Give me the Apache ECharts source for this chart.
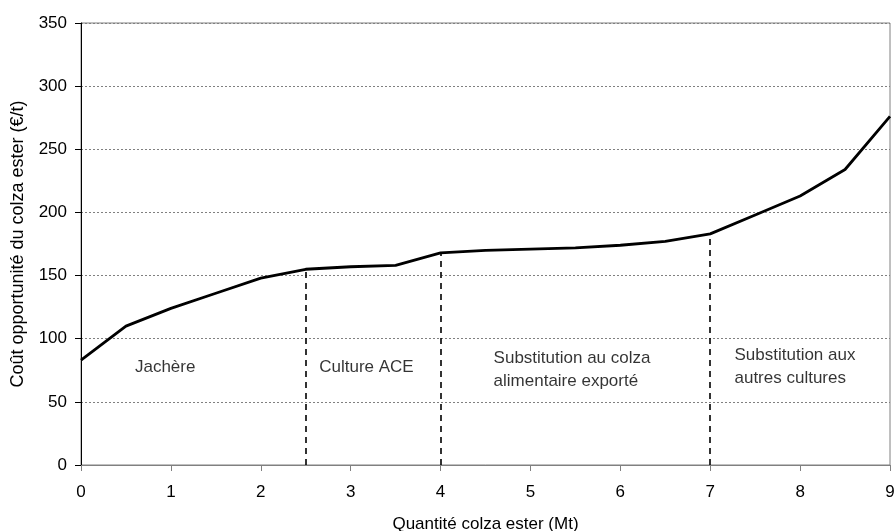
<!DOCTYPE html>
<html>
<head>
<meta charset="utf-8">
<script src="https://cdn.jsdelivr.net/npm/echarts@6/dist/echarts.min.js"></script>
<style>html,body{margin:0;padding:0;background:#fff}#c{width:895px;height:531px}</style>
</head>
<body>
<div id="c"></div>
<script>
// Data
var quantities = [0, 0.5, 1, 1.5, 2, 2.5, 3, 3.5, 4, 4.5, 5, 5.5, 6, 6.5, 7, 7.5, 8, 8.5, 9];
var costs = [83, 110, 124, 136, 148, 155, 157, 158, 168, 170, 171, 172, 174, 177, 183, 198, 213, 234, 276];
var dividerQuantities = [2.5, 4, 7];
var zoneNames = ['Jachère', 'Culture ACE', 'Substitution au colza\nalimentaire exporté', 'Substitution aux\nautres cultures'];
var zoneLabelX = [0.6, 2.65, 4.59, 7.27];
var zoneLabelY = [77, 77, 75, 78];
var yTicks = [0, 50, 100, 150, 200, 250, 300, 350];
var xTicks = [0, 1, 2, 3, 4, 5, 6, 7, 8, 9];
var xTitle = 'Quantité colza ester (Mt)';
var yTitle = 'Coût opportunité du colza ester (€/t)';

var FONT = '"Liberation Sans", Arial, sans-serif';

function costAt(q) {
  var i = quantities.indexOf(q);
  return costs[i];
}

var lineData = quantities.map(function (q, i) { return [q, costs[i]]; });
var markLines = dividerQuantities.map(function (q) {
  return [{ coord: [q, 0] }, { coord: [q, costAt(q)] }];
});
var labelData = zoneNames.map(function (n, i) {
  return { name: n, value: [zoneLabelX[i], zoneLabelY[i]] };
});

var chart = echarts.init(document.getElementById('c'), null, { renderer: 'canvas' });
chart.setOption({
  animation: false,
  backgroundColor: '#ffffff',
  grid: {
    left: 81, right: 5, top: 23, bottom: 66,
    containLabel: false, outerBoundsMode: 'none',
    show: true, borderColor: '#808080', borderWidth: 1, backgroundColor: 'transparent'
  },
  xAxis: {
    type: 'value', min: xTicks[0], max: xTicks[xTicks.length - 1], interval: 1,
    name: xTitle, nameLocation: 'middle', nameGap: 51,
    nameTextStyle: { fontFamily: FONT, fontSize: 17, color: '#000' },
    axisLine: { show: true, onZero: false, lineStyle: { color: '#808080', width: 1 } },
    axisTick: { show: true, inside: false, length: 6, lineStyle: { color: '#808080' } },
    axisLabel: { fontFamily: FONT, fontSize: 17, color: '#000', margin: 19 },
    splitLine: { show: false }
  },
  yAxis: {
    type: 'value', min: yTicks[0], max: yTicks[yTicks.length - 1], interval: 50,
    name: yTitle, nameLocation: 'middle', nameGap: 54,
    nameTextStyle: { fontFamily: FONT, fontSize: 18, color: '#000' },
    axisLine: { show: true, lineStyle: { color: '#000', width: 1 } },
    axisTick: { show: true, length: 6, lineStyle: { color: '#000' } },
    axisLabel: { fontFamily: FONT, fontSize: 17, color: '#000', margin: 14 },
    splitLine: { show: true, lineStyle: { color: '#808080', width: 1, type: [2, 2] } }
  },
  series: [
    {
      type: 'line',
      data: lineData,
      showSymbol: false,
      symbol: 'none',
      lineStyle: { color: '#000', width: 2.8 },
      z: 5,
      markLine: {
        silent: true,
        symbol: ['none', 'none'],
        label: { show: false },
        lineStyle: { color: '#000', width: 1.6, type: [6, 5] },
        data: markLines
      }
    },
    {
      type: 'scatter',
      data: labelData,
      symbolSize: 0,
      silent: true,
      label: {
        show: true,
        position: 'inside',
        align: 'left',
        verticalAlign: 'middle',
        formatter: function (p) { return p.name; },
        fontFamily: FONT, fontSize: 17, color: '#000', lineHeight: 23
      }
    }
  ]
});
</script>
</body>
</html>
